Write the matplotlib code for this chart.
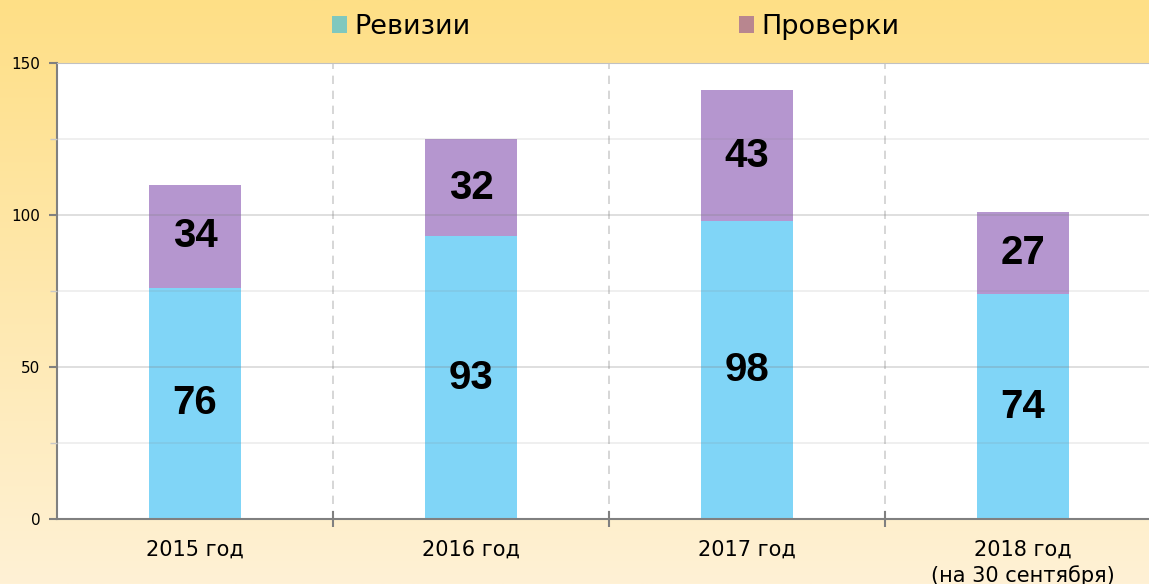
import matplotlib
matplotlib.use("Agg")
import matplotlib.pyplot as plt
import numpy as np
from matplotlib.patches import Patch

plt.rcParams["font.family"] = ["DejaVu Sans"]

categories = ["2015 год", "2016 год", "2017 год", "2018 год\n(на 30 сентября)"]
revizii = [76, 93, 98, 74]
proverki = [34, 32, 43, 27]
series_names = ["Ревизии", "Проверки"]

W, H = 1149, 584
fig = plt.figure(figsize=(W / 100, H / 100), dpi=100)

# фон: вертикальный градиент от жёлтого к кремовому
bg = fig.add_axes([0, 0, 1, 1], zorder=-10)
top = np.array([254, 223, 134]) / 255
bot = np.array([255, 241, 213]) / 255
t = np.linspace(0, 1, 256)[:, None]
grad = top * (1 - t) + bot * t
bg.imshow(grad[:, None, :].repeat(2, axis=1), aspect="auto", extent=[0, 1, 0, 1])
bg.axis("off")

# оси: слева x=57, ширина 4*276 px, низ y=519, верх y=63
left = 57 / W
width = 4 * 276 / W
bottom = 1 - 519 / H
height = (519 - 63) / H
ax = fig.add_axes([left, bottom, width, height])
ax.set_facecolor("white")

x = np.arange(len(categories))
bw = 1 / 3
ax.bar(x, revizii, width=bw, color="#80D5F7", zorder=2)
ax.bar(x, proverki, width=bw, bottom=revizii, color="#B596CF", zorder=2)

for i in range(len(categories)):
    ax.text(x[i], revizii[i] / 2, str(revizii[i]), ha="center", va="center",
            fontsize=29, fontweight="bold", family="Liberation Sans", zorder=4)
    ax.text(x[i], revizii[i] + proverki[i] / 2, str(proverki[i]), ha="center", va="center",
            fontsize=29, fontweight="bold", family="Liberation Sans", zorder=4)

ax.set_xlim(-0.5, len(categories) - 0.5)
ax.set_ylim(0, 150)

# сетка
ax.set_yticks([0, 50, 100, 150])
ax.set_yticks([25, 75, 125], minor=True)
ax.grid(axis="y", which="major", color="gray", alpha=0.3, linewidth=1.2, zorder=3)
ax.grid(axis="y", which="minor", color="gray", alpha=0.15, linewidth=1.2, zorder=3)
ax.set_axisbelow(False)
for b in x[:-1] + 0.5:
    ax.axvline(b, color="#d0d0d0", linestyle=(0, (5, 4)), linewidth=1.2, zorder=1)

ax.set_xticks(x)
ax.set_xticklabels(categories, fontsize=15, linespacing=1.3)
ax.tick_params(axis="x", length=0, pad=15)
ax.set_xticks(x[:-1] + 0.5, minor=True)
ax.tick_params(axis="x", which="minor", length=12, direction="inout", color="#808080", width=1.5)
ax.tick_params(axis="y", which="major", length=6, color="#808080", width=1.5, labelsize=11, pad=6)
ax.tick_params(axis="y", which="minor", length=5, color="#c8c8c8", width=1)

for s in ["left", "bottom"]:
    ax.spines[s].set_color("#808080")
    ax.spines[s].set_linewidth(1.5)
ax.spines["top"].set_color("#d8d8d8")
ax.spines["right"].set_visible(False)

# легенда
h1 = Patch(facecolor="#80C8BE", edgecolor="none")
h2 = Patch(facecolor="#B8868F", edgecolor="none")
for h, name, xpos in [(h1, series_names[0], 332), (h2, series_names[1], 739)]:
    fig.legend([h], [name], loc="center left", bbox_to_anchor=(xpos / W, 1 - 27 / H),
               frameon=False, fontsize=19.5, handlelength=0.56, handleheight=0.56,
               handletextpad=0.27, borderpad=0, borderaxespad=0)

fig.savefig("out.png", dpi=100)
